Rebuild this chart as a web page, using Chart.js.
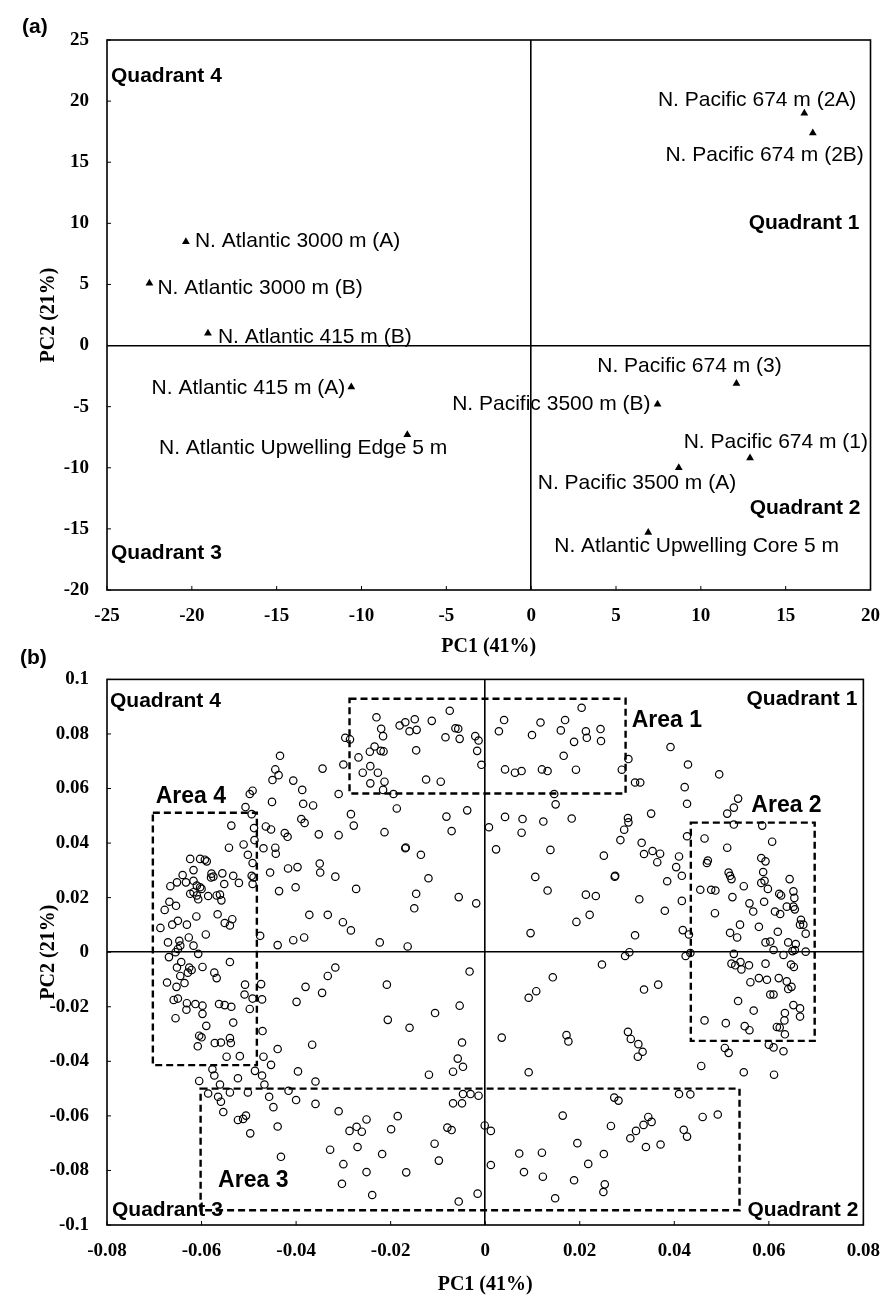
<!DOCTYPE html>
<html>
<head>
<meta charset="utf-8">
<script src="https://cdn.jsdelivr.net/npm/chart.js@4.4.1/dist/chart.umd.min.js"></script>
<style>
  body { margin: 0; background: #fff; }
  #page { position: relative; width: 895px; height: 1298px; overflow: hidden; }
  .panelTag { position: absolute; font: bold 21px 'Liberation Sans', Arial, sans-serif; color: #000; }
  canvas { position: absolute; left: 0; }
</style>
</head>
<body>
<div id="page">
  <canvas id="chartA" width="895" height="660" style="top:0"></canvas>
  <canvas id="chartB" width="895" height="648" style="top:650px"></canvas>
  <div class="panelTag" style="left:22px;top:14px">(a)</div>
  <div class="panelTag" style="left:20px;top:645px">(b)</div>
</div>
<script>
// ---- panel (a): sample scores ----
var sampleNames = [
    "N. Pacific 674 m (2A)", "N. Pacific 674 m (2B)",
    "N. Atlantic 3000 m (A)", "N. Atlantic 3000 m (B)",
    "N. Atlantic 415 m (B)", "N. Atlantic 415 m (A)",
    "N. Pacific 3500 m (B)", "N. Pacific 674 m (3)",
    "N. Atlantic Upwelling Edge 5 m", "N. Pacific 674 m (1)",
    "N. Pacific 3500 m (A)", "N. Atlantic Upwelling Core 5 m"
];
var samplePc1 = [16.1, 16.6, -20.35, -22.5, -19.05, -10.6, 7.45, 12.1, -7.3, 12.9, 8.7, 6.9];
var samplePc2 = [19.0, 17.4, 8.5, 5.1, 1.0, -3.4, -4.8, -3.1, -7.3, -9.2, -10.0, -15.3];

var scoreTicksX = [-25, -20, -15, -10, -5, 0, 5, 10, 15, 20];
var scoreTicksY = [-20, -15, -10, -5, 0, 5, 10, 15, 20, 25];

// ---- panel (b): variable loadings [PC1, PC2] ----
var loadingPairs = [
    [-0.0296,0.0786],[-0.0286,0.0780],[-0.0434,0.0720],[-0.0444,0.0670],[-0.0437,0.0649],[-0.0450,0.0631],
    [-0.0406,0.0629],[-0.0344,0.0673],[-0.0300,0.0688],
    [-0.0268,0.0714],[-0.0230,0.0861],[-0.0220,0.0819],[-0.0216,0.0792],[-0.0259,0.0658],[-0.0243,0.0682],
    [-0.0227,0.0658],[-0.0244,0.0735],[-0.0234,0.0754],[-0.0221,0.0738],[-0.0215,0.0736],[-0.0243,0.0619],
    [-0.0213,0.0625],[-0.0181,0.0831],[-0.0169,0.0843],[-0.0160,0.0810],[-0.0149,0.0854],[-0.0145,0.0815],
    [-0.0113,0.0848],[-0.0075,0.0885],[-0.0084,0.0788],[-0.0063,0.0821],[-0.0057,0.0819],[-0.0054,0.0782],
    [-0.0021,0.0792],[-0.0014,0.0776],[-0.0017,0.0738],[-0.0008,0.0687],[-0.0146,0.0740],[-0.0125,0.0633],
    [-0.0094,0.0625],[0.0040,0.0851],[0.0029,0.0810],[0.0099,0.0796],[0.0117,0.0842],[0.0169,0.0851],
    [0.0160,0.0813],[0.0204,0.0896],[0.0188,0.0771],[0.0213,0.0810],[0.0215,0.0786],[0.0244,0.0818],
    [0.0245,0.0774],[0.0166,0.0720],[0.0042,0.0670],[0.0063,0.0658],[0.0077,0.0664],[0.0120,0.0670],
    [0.0132,0.0664],[0.0192,0.0669],
    [0.0392,0.0752],[0.0429,0.0688],[0.0495,0.0652],[0.0303,0.0708],[0.0289,0.0669],[0.0317,0.0622],
    [0.0328,0.0622],[0.0422,0.0605],[0.0427,0.0544],
    [-0.0387,0.0595],[-0.0492,0.0592],[-0.0498,0.0580],[-0.0310,0.0580],[-0.0451,0.0551],[-0.0385,0.0544],
    [-0.0364,0.0538],[-0.0507,0.0532],[-0.0494,0.0506],[-0.0489,0.0455],[-0.0537,0.0464],[-0.0464,0.0461],
    [-0.0453,0.0450],[-0.0424,0.0437],[-0.0418,0.0423],[-0.0389,0.0488],[-0.0382,0.0474],[-0.0352,0.0432],
    [-0.0310,0.0429],[-0.0511,0.0395],[-0.0488,0.0411],[-0.0542,0.0383],[-0.0469,0.0381],[-0.0444,0.0383],
    [-0.0443,0.0361],[-0.0502,0.0357],[-0.0492,0.0327],[-0.0494,0.0280],[-0.0490,0.0274],[-0.0492,0.0250],
    [-0.0455,0.0292],[-0.0417,0.0307],[-0.0397,0.0312],[-0.0350,0.0325],[-0.0349,0.0292],[-0.0317,0.0277],
    [-0.0436,0.0224],[-0.0401,0.0238],
    [-0.0624,0.0342],[-0.0603,0.0342],[-0.0593,0.0339],[-0.0589,0.0333],[-0.0617,0.0301],[-0.0640,0.0283],
    [-0.0652,0.0256],[-0.0633,0.0256],[-0.0666,0.0242],[-0.0617,0.0262],[-0.0610,0.0244],[-0.0603,0.0238],
    [-0.0600,0.0232],[-0.0579,0.0288],[-0.0575,0.0277],[-0.0580,0.0274],[-0.0556,0.0289],[-0.0533,0.0280],
    [-0.0552,0.0250],[-0.0521,0.0254],[-0.0624,0.0214],[-0.0617,0.0220],[-0.0610,0.0208],[-0.0607,0.0194],
    [-0.0586,0.0206],[-0.0568,0.0208],[-0.0561,0.0211],[-0.0558,0.0190],[-0.0668,0.0185],[-0.0654,0.0170],
    [-0.0678,0.0155],[-0.0566,0.0139],[-0.0611,0.0131],[-0.0551,0.0107],[-0.0540,0.0098],[-0.0535,0.0121],
    [-0.0650,0.0115],[-0.0662,0.0101],[-0.0631,0.0101],[-0.0687,0.0089],[-0.0591,0.0065],[-0.0671,0.0036],
    [-0.0647,0.0042],[-0.0645,0.0024],[-0.0650,0.0012],[-0.0627,0.0054],[-0.0617,0.0024],[-0.0607,-0.0006],
    [-0.0669,-0.0018],[-0.0655,0.0000],[-0.0643,-0.0036],[-0.0652,-0.0056],[-0.0626,-0.0056],[-0.0621,-0.0065],
    [-0.0645,-0.0087],[-0.0629,-0.0075],[-0.0598,-0.0054],[-0.0573,-0.0075],[-0.0568,-0.0095],[-0.0540,-0.0036],
    [-0.0673,-0.0111],[-0.0653,-0.0127],[-0.0636,-0.0113],[-0.0508,-0.0119],[-0.0509,-0.0155],[-0.0474,-0.0117],
    [-0.0476,0.0060],[-0.0439,0.0026],[-0.0406,0.0044],[-0.0383,0.0054],[-0.0372,0.0137],[-0.0333,0.0137],
    [-0.0301,0.0110],[-0.0317,-0.0056],[-0.0333,-0.0087],[-0.0380,-0.0127],[-0.0345,-0.0149],
    [-0.0216,0.0595],[-0.0194,0.0580],[-0.0187,0.0527],[-0.0284,0.0506],[-0.0278,0.0464],[-0.0213,0.0440],
    [-0.0082,0.0497],[-0.0071,0.0444],[-0.0038,0.0520],[-0.0169,0.0381],[-0.0168,0.0384],[-0.0136,0.0357],
    [-0.0120,0.0271],[-0.0273,0.0232],[-0.0146,0.0214],[-0.0150,0.0161],[-0.0056,0.0202],[-0.0019,0.0179],
    [-0.0284,0.0080],[-0.0223,0.0036],[-0.0164,0.0021],[-0.0033,-0.0071],[-0.0208,-0.0119],
    [0.0146,0.0580],[0.0149,0.0542],[0.0008,0.0458],[0.0042,0.0496],[0.0079,0.0488],[0.0077,0.0438],
    [0.0123,0.0479],[0.0183,0.0490],[0.0023,0.0377],[0.0138,0.0375],[0.0106,0.0276],[0.0132,0.0226],
    [0.0213,0.0211],[0.0234,0.0206],[0.0221,0.0137],[0.0193,0.0111],[0.0096,0.0070],[0.0143,-0.0092],
    [0.0108,-0.0143],
    [0.0535,0.0563],[0.0526,0.0530],[0.0512,0.0508],[0.0526,0.0468],[0.0586,0.0464],[0.0351,0.0508],
    [0.0302,0.0492],[0.0303,0.0476],[0.0294,0.0449],[0.0286,0.0411],[0.0251,0.0354],[0.0331,0.0401],
    [0.0336,0.0360],[0.0354,0.0371],[0.0370,0.0361],[0.0364,0.0330],[0.0410,0.0351],[0.0404,0.0312],
    [0.0416,0.0280],[0.0427,0.0425],[0.0464,0.0417],[0.0512,0.0383],[0.0607,0.0405],[0.0274,0.0277],
    [0.0275,0.0280],[0.0385,0.0260],[0.0469,0.0327],[0.0471,0.0336],[0.0515,0.0292],[0.0518,0.0280],
    [0.0521,0.0268],[0.0584,0.0345],[0.0593,0.0333],[0.0588,0.0294],[0.0584,0.0254],[0.0591,0.0262],
    [0.0598,0.0232],[0.0644,0.0268],[0.0622,0.0214],[0.0626,0.0208],[0.0652,0.0223],[0.0654,0.0199],
    [0.0652,0.0167],[0.0655,0.0157],[0.0455,0.0229],[0.0478,0.0229],[0.0487,0.0226],[0.0547,0.0242],
    [0.0523,0.0202],[0.0326,0.0194],[0.0416,0.0188],[0.0559,0.0179],[0.0567,0.0149],[0.0590,0.0185],
    [0.0638,0.0167],[0.0613,0.0149],[0.0624,0.0140],[0.0486,0.0143],[0.0380,0.0152],[0.0668,0.0119],
    [0.0666,0.0101],[0.0673,0.0101],[0.0678,0.0068],[0.0539,0.0101],[0.0518,0.0071],[0.0533,0.0054],
    [0.0579,0.0093],[0.0619,0.0075],[0.0418,0.0081],[0.0431,0.0065],[0.0317,0.0062],[0.0593,0.0036],
    [0.0603,0.0039],[0.0641,0.0036],[0.0657,0.0030],[0.0610,0.0008],[0.0631,-0.0010],[0.0650,0.0004],
    [0.0655,0.0008],[0.0678,0.0002],[0.0526,-0.0006],[0.0521,-0.0042],[0.0529,-0.0048],[0.0540,-0.0036],
    [0.0558,-0.0048],[0.0542,-0.0063],[0.0593,-0.0042],[0.0647,-0.0045],[0.0653,-0.0054],[0.0424,-0.0014],
    [0.0434,-0.0003],[0.0296,-0.0014],[0.0305,0.0000],[0.0247,-0.0045],[0.0366,-0.0119],[0.0336,-0.0137],
    [0.0561,-0.0110],[0.0579,-0.0095],[0.0596,-0.0101],[0.0621,-0.0095],[0.0638,-0.0107],[0.0648,-0.0127],
    [0.0641,-0.0135],[0.0603,-0.0155],[0.0610,-0.0155],[0.0535,-0.0179],
    [-0.0659,-0.0175],[-0.0650,-0.0170],[-0.0631,-0.0187],[-0.0613,-0.0190],[-0.0598,-0.0196],[-0.0632,-0.0211],
    [-0.0563,-0.0190],[-0.0551,-0.0194],[-0.0537,-0.0200],[-0.0492,-0.0170],[-0.0472,-0.0173],[-0.0498,-0.0208],
    [-0.0399,-0.0182],[-0.0655,-0.0242],[-0.0598,-0.0226],[-0.0533,-0.0258],[-0.0590,-0.0270],[-0.0605,-0.0306],
    [-0.0600,-0.0312],[-0.0608,-0.0345],[-0.0572,-0.0333],[-0.0559,-0.0331],[-0.0540,-0.0315],[-0.0538,-0.0333],
    [-0.0547,-0.0383],[-0.0519,-0.0381],[-0.0471,-0.0289],[-0.0439,-0.0355],[-0.0366,-0.0339],[-0.0469,-0.0383],
    [-0.0453,-0.0413],[-0.0487,-0.0435],[-0.0472,-0.0452],[-0.0467,-0.0485],[-0.0577,-0.0429],[-0.0573,-0.0452],
    [-0.0605,-0.0472],[-0.0561,-0.0485],[-0.0523,-0.0462],[-0.0396,-0.0437],[-0.0359,-0.0474],[-0.0586,-0.0518],
    [-0.0540,-0.0514],[-0.0502,-0.0514],[-0.0565,-0.0530],[-0.0559,-0.0548],[-0.0554,-0.0586],[-0.0457,-0.0530],
    [-0.0448,-0.0568],[-0.0416,-0.0508],[-0.0400,-0.0542],[-0.0359,-0.0556],[-0.0523,-0.0615],[-0.0512,-0.0611],
    [-0.0506,-0.0599],[-0.0497,-0.0664],[-0.0439,-0.0639],[-0.0310,-0.0583],[-0.0328,-0.0724],[-0.0432,-0.0750],
    [-0.0300,-0.0777],[-0.0303,-0.0849],
    [-0.0206,-0.0248],[-0.0160,-0.0277],[-0.0106,-0.0223],[-0.0054,-0.0196],[-0.0049,-0.0331],[-0.0058,-0.0390],
    [-0.0047,-0.0420],[-0.0068,-0.0438],[-0.0119,-0.0449],[-0.0047,-0.0520],[-0.0031,-0.0520],[-0.0014,-0.0526],
    [-0.0068,-0.0554],[-0.0049,-0.0554],[-0.0287,-0.0655],[-0.0272,-0.0640],[-0.0261,-0.0658],[-0.0251,-0.0613],
    [-0.0185,-0.0601],[-0.0199,-0.0649],[-0.0270,-0.0714],[-0.0218,-0.0740],[-0.0080,-0.0643],[-0.0071,-0.0652],
    [-0.0001,-0.0635],[0.0012,-0.0655],[-0.0107,-0.0702],[-0.0098,-0.0764],[-0.0251,-0.0806],[-0.0167,-0.0807],
    [-0.0239,-0.0890],[-0.0016,-0.0885],[-0.0056,-0.0914],[0.0012,-0.0780],
    [0.0092,-0.0167],[0.0035,-0.0313],[0.0092,-0.0440],[0.0172,-0.0304],[0.0176,-0.0327],[0.0164,-0.0599],
    [0.0195,-0.0700],[0.0072,-0.0738],[0.0120,-0.0735],[0.0218,-0.0776],[0.0082,-0.0806],[0.0122,-0.0823],
    [0.0188,-0.0836],[0.0148,-0.0902],
    [0.0568,-0.0214],[0.0464,-0.0250],[0.0509,-0.0260],[0.0549,-0.0271],[0.0559,-0.0286],[0.0652,-0.0194],
    [0.0666,-0.0206],[0.0666,-0.0236],[0.0634,-0.0223],[0.0633,-0.0250],[0.0617,-0.0274],[0.0623,-0.0276],
    [0.0634,-0.0301],[0.0600,-0.0339],[0.0610,-0.0349],[0.0631,-0.0363],[0.0507,-0.0351],[0.0515,-0.0369],
    [0.0302,-0.0292],[0.0308,-0.0318],[0.0324,-0.0337],[0.0333,-0.0365],[0.0323,-0.0383],[0.0457,-0.0417],
    [0.0547,-0.0440],[0.0611,-0.0449],[0.0410,-0.0520],[0.0434,-0.0521],[0.0273,-0.0533],[0.0282,-0.0544],
    [0.0460,-0.0604],[0.0492,-0.0595],[0.0345,-0.0604],[0.0352,-0.0622],[0.0335,-0.0633],[0.0319,-0.0655],
    [0.0307,-0.0682],[0.0266,-0.0637],[0.0420,-0.0651],[0.0427,-0.0676],[0.0340,-0.0714],[0.0371,-0.0705],
    [0.0251,-0.0740],[0.0253,-0.0851],[0.0250,-0.0879]
];

var loadingTicksX = [-0.08, -0.06, -0.04, -0.02, 0, 0.02, 0.04, 0.06, 0.08];
var loadingTicksY = [-0.1, -0.08, -0.06, -0.04, -0.02, 0, 0.02, 0.04, 0.06, 0.08, 0.1];

// dashed areas in panel (b)
var areaNames = ["Area 1", "Area 2", "Area 3", "Area 4"];
var areaPc1Min = [-0.0287, 0.0435, -0.0602, -0.0703];
var areaPc1Max = [0.0297, 0.0697, 0.0538, -0.0483];
var areaPc2Min = [0.0582, -0.0325, -0.0946, -0.0414];
var areaPc2Max = [0.0929, 0.0475, -0.0500, 0.0511];

var quadrantNames = ["Quadrant 1", "Quadrant 2", "Quadrant 3", "Quadrant 4"];

// ---- styling ----
var serifBold = "'Liberation Serif', 'Times New Roman', serif";
var sans = "'Liberation Sans', Arial, sans-serif";

// label placement for panel (a): [align, dx, dy] in pixels from the triangle
var sampleLabelPos = [
    ["right", 52, -13], ["right", 51, 22],
    ["left", 9, 0], ["left", 8, 5],
    ["left", 10, 4], ["right", -6, 1],
    ["right", -7, 0], ["center", -47, -17],
    ["right", 40, 13], ["right", 118, -16],
    ["left", -141, 15], ["left", -94, 14]
];
// area label anchors (left-middle), in axis units
var areaLabelAt = [[0.031, 0.085], [0.0563, 0.0536], [-0.0565, -0.0839], [-0.0697, 0.0571]];

function fmtTick(v) {
    return String(Number(v.toFixed(3)));
}

// frame, inward ticks and quadrant labels, common to both panels
function frameTicks(quadY) {
    return {
        id: 'frameTicks',
        afterDraw: function(chart) {
            var ctx = chart.ctx, a = chart.chartArea, sx = chart.scales.x, sy = chart.scales.y;
            ctx.save();
            ctx.strokeStyle = "#000";
            ctx.lineWidth = 1.6;
            ctx.strokeRect(a.left, a.top, a.right - a.left, a.bottom - a.top);
            ctx.lineWidth = 1;
            sx.ticks.forEach(function(t) {
                var px = sx.getPixelForValue(t.value);
                ctx.beginPath(); ctx.moveTo(px, a.bottom); ctx.lineTo(px, a.bottom - 4); ctx.stroke();
            });
            sy.ticks.forEach(function(t) {
                var py = sy.getPixelForValue(t.value);
                ctx.beginPath(); ctx.moveTo(a.left, py); ctx.lineTo(a.left + 4, py); ctx.stroke();
            });
            ctx.fillStyle = "#000";
            ctx.font = "bold 21px " + sans;
            ctx.textBaseline = "middle";
            ctx.textAlign = "right";
            ctx.fillText(quadrantNames[0], a.right - quadY[0][0], quadY[0][1](a, sy));
            ctx.fillText(quadrantNames[1], a.right - quadY[1][0], quadY[1][1](a, sy));
            ctx.textAlign = "left";
            ctx.fillText(quadrantNames[2], a.left + quadY[2][0], quadY[2][1](a, sy));
            ctx.fillText(quadrantNames[3], a.left + quadY[3][0], quadY[3][1](a, sy));
            ctx.restore();
        }
    };
}

function axisOptions(ticks, min, max, title, isY, labelPad, titlePad) {
    return {
        type: 'linear',
        min: min,
        max: max,
        afterBuildTicks: function(s) { s.ticks = ticks.map(function(v) { return { value: v }; }); },
        ticks: {
            autoSkip: false,
            padding: labelPad,
            color: "#000",
            font: { family: serifBold, weight: 'bold', size: 19 },
            callback: function(v) { return fmtTick(v); }
        },
        grid: {
            drawTicks: false,
            lineWidth: 1.6,
            color: function(c) { return c.tick && Math.abs(c.tick.value) < 1e-9 ? "#000" : "rgba(0,0,0,0)"; }
        },
        border: { display: false },
        title: {
            display: true,
            text: title,
            color: "#000",
            font: { family: serifBold, weight: 'bold', size: 20 },
            padding: isY ? { top: titlePad, bottom: 0 } : { top: 0, bottom: titlePad }
        },
        afterFit: isY ? function(s) { s.width = 107; } : function(s) { s.height = 70; }
    };
}

// ---- chart (a) ----
var scoreLabels = {
    id: 'scoreLabels',
    afterDatasetsDraw: function(chart) {
        var ctx = chart.ctx, pts = chart.getDatasetMeta(0).data;
        ctx.save();
        ctx.fillStyle = "#000";
        ctx.font = "21px " + sans;
        ctx.textBaseline = "middle";
        pts.forEach(function(p, i) {
            var pos = sampleLabelPos[i];
            ctx.textAlign = pos[0];
            ctx.fillText(sampleNames[i], p.x + pos[1], p.y + pos[2]);
        });
        ctx.restore();
    }
};

var xA = axisOptions(scoreTicksX, -25, 20, "PC1 (41%)", false, 15, 1);
var yA = axisOptions(scoreTicksY, -20, 25, "PC2 (21%)", true, 18, 37);

new Chart(document.getElementById("chartA"), {
    type: 'scatter',
    data: {
        datasets: [{
            data: samplePc1.map(function(x, i) { return { x: x, y: samplePc2[i] }; }),
            pointStyle: 'triangle',
            pointRadius: 4.5,
            backgroundColor: "#000",
            borderColor: "#000",
            borderWidth: 0
        }]
    },
    options: {
        responsive: false,
        animation: false,
        layout: { padding: { top: 40, right: 23, left: 0, bottom: 0 } },
        plugins: { legend: { display: false }, tooltip: { enabled: false } },
        scales: { x: xA, y: yA }
    },
    plugins: [scoreLabels, frameTicks([
        [11, function(a, sy) { return sy.getPixelForValue(10.0); }],
        [10, function(a, sy) { return sy.getPixelForValue(-13.3); }],
        [4, function(a, sy) { return sy.getPixelForValue(-17.0); }],
        [4, function(a, sy) { return sy.getPixelForValue(22.0); }]
    ])]
});

// ---- chart (b) ----
var areaBoxes = {
    id: 'areaBoxes',
    afterDatasetsDraw: function(chart) {
        var ctx = chart.ctx, sx = chart.scales.x, sy = chart.scales.y;
        ctx.save();
        ctx.strokeStyle = "#000";
        ctx.lineWidth = 2.4;
        ctx.setLineDash([7, 4]);
        areaNames.forEach(function(n, i) {
            var x0 = sx.getPixelForValue(areaPc1Min[i]), x1 = sx.getPixelForValue(areaPc1Max[i]);
            var y0 = sy.getPixelForValue(areaPc2Max[i]), y1 = sy.getPixelForValue(areaPc2Min[i]);
            ctx.strokeRect(x0, y0, x1 - x0, y1 - y0);
        });
        ctx.setLineDash([]);
        ctx.fillStyle = "#000";
        ctx.font = "bold 23px " + sans;
        ctx.textBaseline = "middle";
        ctx.textAlign = "left";
        areaNames.forEach(function(n, i) {
            ctx.fillText(n, sx.getPixelForValue(areaLabelAt[i][0]), sy.getPixelForValue(areaLabelAt[i][1]));
        });
        ctx.restore();
    }
};

var xB = axisOptions(loadingTicksX, -0.08, 0.08, "PC1 (41%)", false, 15, 1);
var yB = axisOptions(loadingTicksY, -0.1, 0.1, "PC2 (21%)", true, 18, 37);
xB.afterFit = function(s) { s.height = 73; };

new Chart(document.getElementById("chartB"), {
    type: 'scatter',
    data: {
        datasets: [{
            data: loadingPairs.map(function(p) { return { x: p[0], y: p[1] }; }),
            pointStyle: 'circle',
            pointRadius: 3.7,
            backgroundColor: "rgba(255,255,255,0)",
            borderColor: "#000",
            borderWidth: 1.2
        }]
    },
    options: {
        responsive: false,
        animation: false,
        layout: { padding: { top: 15, right: 23, left: 0, bottom: 0 } },
        plugins: { legend: { display: false }, tooltip: { enabled: false } },
        scales: { x: xB, y: yB }
    },
    plugins: [areaBoxes, frameTicks([
        [6, function(a) { return a.top + 20; }],
        [5, function(a) { return a.bottom - 15; }],
        [5, function(a) { return a.bottom - 15; }],
        [3, function(a) { return a.top + 22; }]
    ])]
});
</script>
</body>
</html>
